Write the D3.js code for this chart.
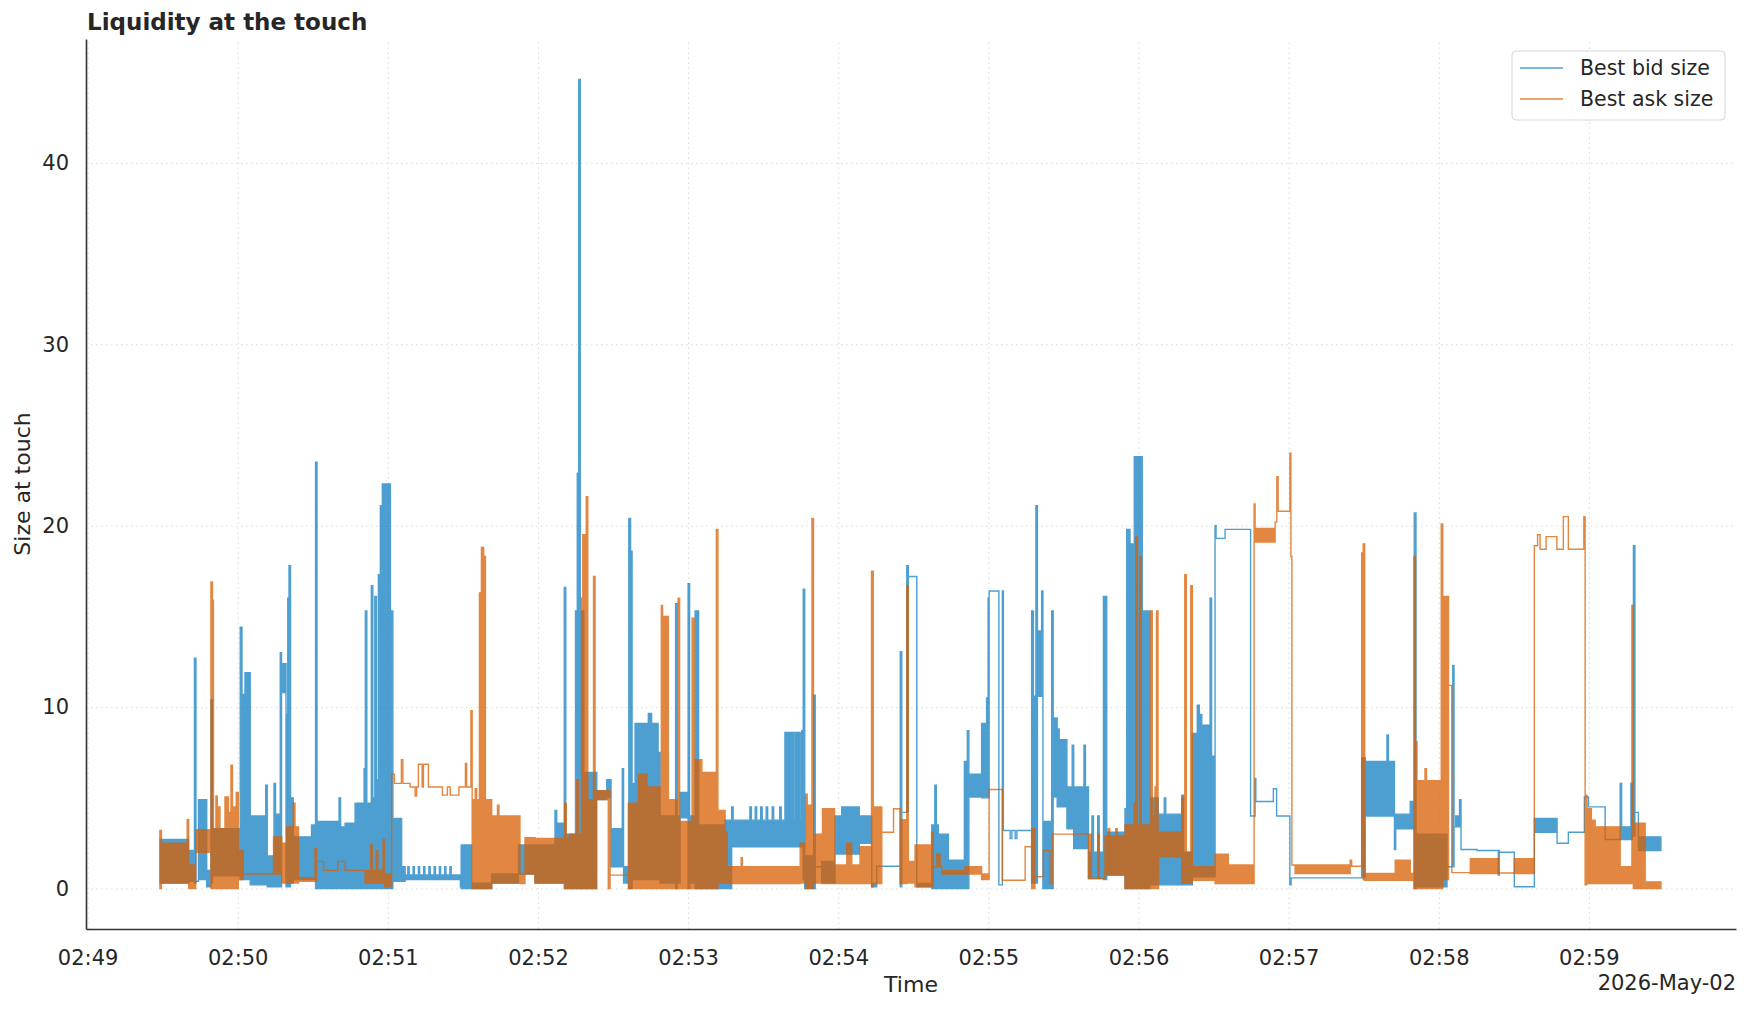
<!DOCTYPE html>
<html>
<head>
<meta charset="utf-8">
<script src="https://cdn.jsdelivr.net/npm/d3@7"></script>
<style>
  body { margin: 0; background: #fff; }
  text { font-family: "DejaVu Sans", sans-serif; fill: #262626; }
</style>
</head>
<body>
<svg id="chart"></svg>
<script>
// seconds after 02:49:00, [t, low, high] — low == high is a plain step,
// low < high is a stretch where the size flickers too fast to separate
const bidSteps = [
  [29.0, 0.3, 2.7], [40.3, 0.4, 2.1], [42.7, 0.3, 12.7], [43.3, 0.4, 0.4],
  [44.3, 0.5, 4.9], [47.6, 0.1, 1.0], [49.3, 0.3, 10.4], [49.9, 0.7, 3.3],
  [61.0, 0.5, 14.4], [61.7, 0.5, 10.7], [62.9, 0.5, 11.9], [65.0, 0.2, 4.0],
  [71.2, 0.2, 5.7], [71.8, 0.1, 1.8], [74.5, 0.1, 5.8], [75.1, 0.1, 4.1],
  [77.0, 0.1, 13.0], [77.5, 10.8, 12.4], [79.3, 0.1, 9.6], [80.0, 0.1, 16.0],
  [80.5, 0.1, 17.8], [81.1, 0.3, 5.0], [82.2, 0.5, 2.85], [89.5, 0.5, 3.5],
  [91.1, 0.0, 23.5], [91.7, 0.0, 3.7], [100.5, 0.0, 5.0], [101.1, 0.0, 3.4],
  [102.9, 0.0, 3.6], [106.9, 0.0, 4.7], [110.5, 0.0, 6.6], [111.0, 0.0, 15.3],
  [111.6, 0.0, 4.7], [113.4, 0.0, 16.7], [114.0, 0.0, 5.0], [114.8, 0.0, 16.1],
  [115.4, 0.0, 6.0], [116.2, 0.0, 17.3], [117.0, 0.0, 21.1], [117.8, 0.0, 22.3],
  [121.0, 0.0, 15.3], [122.0, 0.4, 3.86], [125.5, 0.4, 1.2], [126.9, 0.5, 0.75],
  [128.0, 0.5, 1.2], [128.5, 0.5, 0.75], [130.1, 0.5, 1.2], [130.6, 0.5, 0.75],
  [132.2, 0.5, 1.2], [132.7, 0.5, 0.75], [134.3, 0.5, 1.2], [134.8, 0.5, 0.75],
  [136.4, 0.5, 1.2], [136.9, 0.5, 0.75], [138.5, 0.5, 1.2], [139.0, 0.5, 0.75],
  [140.6, 0.5, 1.2], [141.1, 0.5, 0.75], [142.7, 0.5, 1.2], [143.2, 0.5, 0.75],
  [144.8, 0.5, 1.2], [145.3, 0.5, 0.75], [149.0, 0.1, 0.7], [149.3, 0.0, 2.4],
  [153.5, 0.0, 0.3], [161.5, 0.3, 0.8], [172.2, 0.8, 2.4],
  [178.8, 0.3, 2.4], [186.8, 0.3, 4.3], [187.5, 0.3, 3.6], [190.5, 0.0, 16.6],
  [191.1, 0.0, 3.0], [195.0, 0.0, 15.3], [195.7, 0.0, 22.9], [196.3, 0.0, 44.6],
  [196.9, 0.0, 15.3], [198.3, 0.0, 6.4], [203.5, 4.9, 5.4], [207.5, 5.0, 6.0],
  [209.2, 1.2, 3.3], [213.7, 1.2, 6.6], [214.2, 0.3, 1.2], [216.3, 0.0, 20.4],
  [217.0, 0.0, 18.6], [217.6, 0.5, 5.8], [218.8, 0.5, 9.1], [224.1, 0.5, 9.65],
  [225.4, 0.5, 9.1], [228.0, 0.5, 7.5], [228.8, 0.3, 4.0], [235.0, 0.0, 15.7],
  [235.6, 0.3, 4.0], [236.8, 3.9, 5.3], [240.0, 0.0, 16.8], [240.6, 0.3, 4.0],
  [242.8, 0.0, 15.3], [244.2, 0.0, 3.5],
  [254.8, 0.0, 3.77], [257.4, 2.3, 4.5], [258.0, 2.3, 3.77], [264.7, 2.3, 4.5],
  [265.3, 2.3, 3.77], [266.8, 2.3, 4.5], [267.4, 2.3, 3.77], [269.0, 2.3, 4.5],
  [269.6, 2.3, 3.77], [271.2, 2.3, 4.5], [271.8, 2.3, 3.77], [273.6, 2.3, 4.5],
  [274.2, 2.3, 3.77], [276.6, 2.3, 4.5], [277.2, 2.3, 3.77],
  [278.7, 2.3, 8.6], [282.1, 2.3, 3.8], [282.7, 2.3, 8.6], [284.8, 2.3, 3.8],
  [285.4, 2.3, 8.7], [286.0, 0.5, 16.5], [286.6, 0.0, 1.8], [290.2, 0.0, 10.66],
  [290.8, 1.2, 1.2], [293.4, 0.3, 1.5], [298.7, 1.9, 4.0], [301.4, 1.9, 4.5],
  [308.4, 2.5, 4.0], [313.4, 0.1, 0.3], [315.4, 1.23, 1.23], [324.8, 0.1, 13.05],
  [325.4, 4.2, 4.2], [327.4, 4.2, 17.8], [328.0, 17.2, 17.2],
  [331.4, 0.1, 0.28], [337.4, 0.0, 3.5], [338.6, 0.0, 5.7], [339.2, 0.0, 3.5],
  [340.0, 0.0, 3.0], [344.0, 0.0, 1.56], [350.4, 0.0, 7.0], [351.6, 0.0, 8.7],
  [352.2, 5.05, 6.3], [357.3, 5.0, 9.1], [359.3, 5.0, 10.5], [359.9, 5.0, 16.0],
  [360.3, 16.4, 16.4], [364.2, 0.2, 0.2], [365.6, 16.4, 16.4], [366.0, 3.2, 3.2],
  [368.7, 2.75, 2.75], [369.4, 3.2, 3.2], [370.7, 2.75, 2.75], [371.4, 3.2, 3.2],
  [377.3, 0.3, 15.3], [378.0, 0.3, 10.6], [379.0, 0.3, 21.1], [379.6, 10.6, 14.2],
  [381.3, 10.6, 16.4], [381.8, 0.0, 3.7], [385.3, 0.0, 15.3], [385.9, 5.05, 9.4],
  [387.5, 4.5, 8.8], [388.3, 4.5, 8.2], [391.4, 3.3, 5.6], [393.5, 3.3, 7.9],
  [394.1, 2.2, 5.6], [398.2, 2.2, 7.9], [398.8, 2.2, 5.6], [400.0, 0.55, 2.0],
  [401.4, 0.55, 4.0], [402.0, 0.55, 2.0], [403.7, 0.55, 4.0], [404.3, 0.55, 2.0],
  [406.0, 0.5, 16.1], [407.3, 0.74, 3.1], [414.6, 0.0, 4.4], [415.3, 0.0, 19.8],
  [416.6, 0.0, 19.0], [418.3, 0.0, 23.8], [421.5, 0.0, 15.3], [424.6, 0.2, 5.0],
  [427.9, 0.2, 4.1], [430.3, 0.2, 5.0], [430.9, 0.2, 4.1], [437.3, 0.2, 5.15],
  [438.0, 0.2, 2.0], [441.5, 0.65, 8.55], [443.5, 0.65, 10.1], [444.3, 0.65, 9.6],
  [445.3, 0.65, 9.0], [448.6, 0.65, 16.0], [449.2, 0.65, 7.3], [450.6, 20.0, 20.0],
  [451.0, 19.3, 19.3], [454.6, 19.8, 19.8], [464.8, 4.0, 4.0], [466.6, 6.07, 6.07],
  [466.9, 4.8, 4.8], [473.9, 5.5, 5.5], [475.2, 4.0, 4.0], [480.5, 0.2, 0.2],
  [481.0, 0.59, 0.59], [509.2, 0.59, 7.2], [510.6, 4.0, 7.0], [519.3, 4.0, 8.46],
  [519.9, 4.0, 7.0], [522.3, 2.15, 4.1], [522.8, 3.3, 4.1], [528.6, 3.3, 4.8],
  [530.2, 0.0, 20.7], [530.9, 0.1, 3.0], [543.3, 1.2, 1.2], [545.6, 1.2, 12.3],
  [546.1, 3.4, 3.4], [546.8, 3.4, 4.0], [548.3, 3.4, 4.9], [548.9, 2.15, 2.15],
  [555.3, 2.1, 2.1], [563.8, 0.74, 2.1], [564.2, 2.0, 2.0], [570.2, 0.1, 0.1],
  [578.2, 3.1, 3.86], [587.3, 2.5, 2.5], [591.8, 3.1, 3.1], [598.2, 5.05, 5.05],
  [599.8, 4.5, 4.5], [606.5, 2.7, 2.7], [612.5, 2.7, 5.8], [613.1, 2.7, 3.4],
  [616.8, 2.7, 5.8], [617.3, 4.2, 4.2], [617.8, 2.9, 18.9], [618.4, 4.2, 4.2],
  [619.8, 2.1, 2.85], [628.8, 2.1, 2.85]
];

const askSteps = [
  [28.9, 0.0, 3.2], [29.5, 0.3, 2.5], [39.8, 0.3, 3.8], [40.4, 0.0, 1.3],
  [43.2, 2.0, 3.25], [49.3, 0.0, 16.9], [49.9, 0.0, 15.9], [50.3, 0.0, 3.3],
  [51.3, 0.0, 5.1], [51.8, 0.0, 3.3], [52.2, 0.0, 4.5], [52.9, 0.0, 3.3],
  [54.9, 0.0, 5.05], [56.3, 0.0, 4.2], [57.3, 0.0, 6.8], [57.9, 0.0, 4.5],
  [59.4, 0.0, 5.3], [60.2, 0.5, 2.1], [62.2, 0.8, 0.8], [74.3, 0.8, 2.85],
  [77.6, 0.3, 2.5], [79.6, 0.3, 3.4], [82.2, 0.3, 4.7], [82.9, 0.3, 3.4],
  [84.3, 0.4, 0.6], [90.9, 0.4, 2.2], [91.5, 1.5, 1.5], [94.3, 1.0, 1.0],
  [100.0, 1.5, 1.5], [102.9, 1.0, 1.0], [110.9, 0.3, 1.0], [113.2, 0.3, 2.4],
  [113.8, 0.3, 1.0], [115.4, 0.3, 2.1], [116.0, 0.3, 1.0], [118.1, 0.3, 2.7],
  [118.7, 0.1, 0.8], [121.5, 6.3, 6.3], [122.6, 5.8, 5.8], [125.4, 7.1, 7.1],
  [126.0, 5.8, 5.8], [128.9, 5.6, 5.6], [130.9, 5.1, 5.1], [131.5, 5.6, 5.6],
  [132.2, 6.85, 6.85], [133.7, 5.6, 5.6], [134.2, 6.85, 6.85], [136.2, 5.6, 5.6],
  [141.8, 5.15, 5.15], [143.8, 5.6, 5.6], [144.9, 5.15, 5.15], [148.4, 5.6, 5.6],
  [151.0, 6.9, 6.9], [151.5, 5.6, 5.6], [153.2, 9.8, 9.8], [153.7, 0.0, 4.9],
  [154.9, 0.0, 5.5], [155.5, 0.0, 4.9], [156.6, 0.0, 16.3], [157.4, 0.0, 18.8],
  [158.3, 0.0, 18.3], [159.0, 0.0, 4.9], [161.5, 0.3, 4.0], [163.8, 0.3, 4.6],
  [164.4, 0.3, 4.0], [172.8, 0.28, 0.8], [174.8, 0.8, 2.8],
  [178.8, 0.3, 2.76], [190.7, 0.0, 4.7], [191.3, 0.0, 2.8], [192.5, 0.0, 3.0],
  [195.5, 0.0, 6.0], [196.1, 0.0, 3.0], [197.4, 0.0, 16.0], [197.9, 0.0, 19.5],
  [199.3, 0.0, 21.6], [199.9, 0.0, 4.9], [202.2, 0.0, 17.2], [202.8, 0.0, 4.9],
  [203.3, 4.9, 5.4], [208.1, 0.0, 5.4], [208.8, 0.74, 0.74], [216.1, 0.0, 4.7],
  [220.1, 0.0, 6.3], [223.5, 0.0, 5.6], [229.3, 0.0, 15.6], [229.8, 0.0, 15.0],
  [232.1, 0.0, 4.9], [236.0, 0.0, 16.0], [236.6, 0.0, 3.7], [241.6, 0.0, 14.9],
  [242.4, 0.0, 7.1], [245.5, 0.0, 6.4], [251.3, 0.0, 19.8], [251.9, 0.3, 4.3],
  [254.8, 0.3, 3.1], [255.6, 0.28, 1.2], [261.2, 0.28, 1.7], [261.7, 0.28, 1.2],
  [284.8, 0.3, 2.5], [287.0, 0.0, 5.2], [287.6, 0.0, 4.6], [289.5, 0.0, 20.4],
  [290.1, 0.3, 3.0], [293.7, 0.28, 4.4], [298.5, 0.28, 1.3], [303.4, 0.28, 2.5],
  [305.4, 0.28, 1.3], [308.7, 0.28, 2.3], [313.3, 0.1, 17.5], [314.0, 0.28, 4.5],
  [317.4, 3.1, 3.1], [322.1, 4.4, 4.4], [324.7, 0.28, 3.8], [327.4, 0.3, 16.7],
  [328.0, 0.3, 1.5], [330.7, 0.1, 2.4], [337.3, 0.1, 3.1], [338.0, 1.2, 1.2],
  [339.4, 1.2, 1.9], [340.7, 1.2, 1.2], [341.4, 0.8, 1.0], [350.7, 0.8, 1.2],
  [357.3, 0.5, 0.8], [360.3, 5.46, 5.46], [365.6, 0.46, 0.46], [374.7, 2.3, 2.3],
  [377.3, 0.0, 3.3], [378.6, 0.65, 0.65], [382.0, 2.1, 2.1], [384.6, 0.28, 0.28],
  [385.6, 3.0, 3.0], [400.0, 0.55, 0.55], [400.6, 0.55, 3.0], [401.2, 0.55, 0.55],
  [403.7, 0.55, 3.0], [404.3, 0.55, 0.55], [406.6, 0.74, 2.9], [407.9, 0.74, 3.3],
  [408.5, 0.74, 2.9], [410.9, 0.74, 3.3], [411.5, 0.74, 2.9], [414.6, 0.0, 3.5],
  [418.3, 0.0, 4.7], [418.9, 0.0, 19.4], [419.6, 0.0, 3.5], [420.5, 0.0, 18.3],
  [421.1, 0.0, 3.5], [424.9, 0.0, 15.3], [425.5, 0.0, 4.0], [426.6, 0.0, 5.6],
  [427.2, 0.0, 15.3], [427.8, 0.0, 3.1], [428.0, 1.75, 3.1], [437.3, 0.3, 5.0],
  [438.5, 0.3, 17.3], [439.1, 0.3, 2.0], [440.9, 0.3, 16.7], [441.5, 0.46, 1.2],
  [450.6, 0.28, 1.9], [455.9, 0.28, 1.3], [466.2, 21.2, 21.2], [466.6, 19.1, 19.85],
  [474.6, 20.2, 20.2], [475.3, 22.7, 22.7], [475.8, 20.8, 20.8], [480.5, 24.0, 24.0],
  [480.9, 18.3, 18.3], [481.3, 1.3, 1.3], [482.6, 0.83, 1.3], [504.6, 1.23, 1.56],
  [505.2, 1.23, 1.23], [509.2, 1.23, 18.5], [509.8, 0.5, 19.0], [510.4, 0.46, 0.83],
  [522.6, 0.46, 1.56], [528.6, 0.46, 0.83], [530.1, 0.0, 18.3], [530.7, 0.0, 8.1],
  [531.3, 0.0, 5.94], [534.5, 0.0, 6.6], [535.1, 0.0, 5.94], [541.0, 0.0, 20.1],
  [541.6, 0.5, 16.1], [543.9, 11.2, 11.2], [545.2, 0.88, 0.88], [552.6, 0.83, 1.65],
  [563.8, 0.86, 0.86], [570.2, 0.83, 1.65], [578.2, 18.9, 18.9], [579.5, 19.5, 19.5],
  [580.5, 18.7, 18.7], [582.9, 19.4, 19.4], [587.2, 18.7, 18.7], [589.8, 20.5, 20.5],
  [591.8, 18.7, 18.7], [598.0, 20.5, 20.5], [598.5, 0.2, 5.15], [599.2, 0.28, 4.4],
  [601.0, 0.28, 3.77], [602.5, 0.28, 3.4], [612.5, 0.28, 1.2], [617.2, 0.28, 15.6],
  [617.8, 0.0, 3.6], [622.5, 0.0, 0.37], [628.8, 0.0, 0.37]
];

const yTicks = [0, 10, 20, 30, 40];
const seriesNames = ['Best bid size', 'Best ask size'];
const seriesColors = ['#1480c2', '#d95f02'];
const seriesAlpha = 0.75;

const width = 1747;
const height = 1010;
const plot = {left: 86, right: 1736, top: 39, bottom: 929};

const start = new Date(2026, 4, 2, 2, 49, 0);
const toDate = s => new Date(start.getTime() + s * 1000);

const xScale = d3.scaleTime()
  .domain([toDate(-0.64), toDate(658.8)])
  .range([plot.left, plot.right]);

const yScale = d3.scaleLinear()
  .domain([-2.23, 46.83])
  .range([plot.bottom, plot.top]);

const chart = d3.select('#chart')
  .attr('width', width)
  .attr('height', height);

const minuteTicks = d3.timeMinute.every(1);

// dotted grid
chart.append('g')
  .attr('transform', `translate(0, ${plot.bottom})`)
  .call(d3.axisBottom(xScale).ticks(minuteTicks)
    .tickSize(-(plot.bottom - plot.top)).tickFormat(''))
  .call(g => g.select('.domain').remove())
  .selectAll('line')
  .attr('stroke', '#d8d8d8')
  .attr('stroke-dasharray', '1.5,3.5');

chart.append('g')
  .attr('transform', `translate(${plot.left}, 0)`)
  .call(d3.axisLeft(yScale).tickValues(yTicks)
    .tickSize(-(plot.right - plot.left)).tickFormat(''))
  .call(g => g.select('.domain').remove())
  .selectAll('line')
  .attr('stroke', '#d8d8d8')
  .attr('stroke-dasharray', '1.5,3.5');

const band = d3.area()
  .curve(d3.curveStepAfter)
  .x(d => xScale(toDate(d[0])))
  .y0(d => yScale(d[1]))
  .y1(d => yScale(d[2]));

[bidSteps, askSteps].forEach((steps, i) => {
  chart.append('path')
    .datum(steps)
    .attr('d', band)
    .attr('fill', seriesColors[i])
    .attr('stroke', seriesColors[i])
    .attr('stroke-width', 1.4)
    .attr('stroke-linejoin', 'miter')
    .attr('opacity', seriesAlpha);
});

// axes
const xAxis = chart.append('g')
  .attr('transform', `translate(0, ${plot.bottom})`)
  .call(d3.axisBottom(xScale).ticks(minuteTicks)
    .tickFormat(d3.timeFormat('%H:%M'))
    .tickSize(0).tickSizeOuter(0).tickPadding(21));

const yAxis = chart.append('g')
  .attr('transform', `translate(${plot.left}, 0)`)
  .call(d3.axisLeft(yScale).tickValues(yTicks)
    .tickSize(0).tickSizeOuter(0).tickPadding(17));

[xAxis, yAxis].forEach(axis => {
  axis.select('.domain')
    .attr('stroke', '#333')
    .attr('stroke-width', 1.6);
  axis.selectAll('text')
    .attr('font-family', '"DejaVu Sans", sans-serif')
    .attr('font-size', 21)
    .attr('fill', '#262626');
});

chart.append('text')
  .attr('x', plot.left + 1)
  .attr('y', 30)
  .attr('font-size', 23)
  .attr('font-weight', 'bold')
  .text('Liquidity at the touch');

chart.append('text')
  .attr('x', (plot.left + plot.right) / 2)
  .attr('y', 992)
  .attr('text-anchor', 'middle')
  .attr('font-size', 22)
  .text('Time');

chart.append('text')
  .attr('transform', `translate(30, ${(plot.top + plot.bottom) / 2}) rotate(-90)`)
  .attr('text-anchor', 'middle')
  .attr('font-size', 22)
  .text('Size at touch');

chart.append('text')
  .attr('x', plot.right)
  .attr('y', 990)
  .attr('text-anchor', 'end')
  .attr('font-size', 21)
  .text('2026-May-02');

// legend
const legend = chart.append('g');

legend.append('rect')
  .attr('x', 1512)
  .attr('y', 51)
  .attr('width', 213)
  .attr('height', 69)
  .attr('rx', 4)
  .attr('fill', '#fff')
  .attr('fill-opacity', 0.8)
  .attr('stroke', '#d6d6d6');

seriesNames.forEach((name, i) => {
  const y = 68 + i * 31;
  legend.append('line')
    .attr('x1', 1520)
    .attr('x2', 1563)
    .attr('y1', y)
    .attr('y2', y)
    .attr('stroke', seriesColors[i])
    .attr('stroke-width', 1.4)
    .attr('opacity', seriesAlpha);
  legend.append('text')
    .attr('x', 1580)
    .attr('y', y + 7)
    .attr('font-size', 20.5)
    .text(name);
});
</script>
</body>
</html>
